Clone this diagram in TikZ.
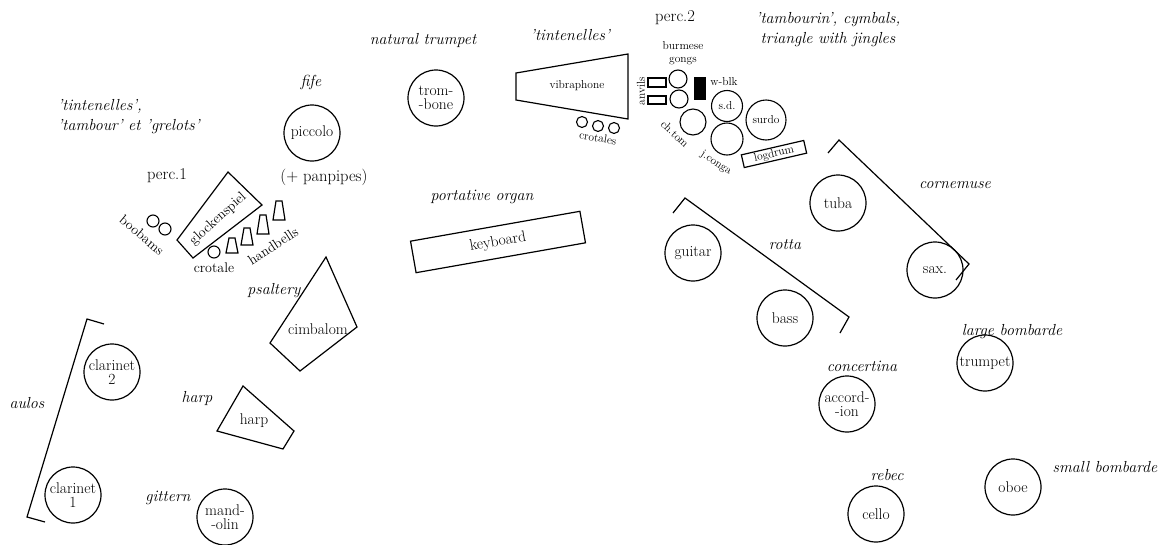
\documentclass[tikz,border=0pt]{standalone}
\begin{document}
\begin{tikzpicture}[x=1pt,y=-1pt,line width=1.2pt,line join=miter,
  inst/.style={circle,draw,line width=1.2pt,minimum size=56pt,inner sep=0pt,align=center,font=\fontsize{15.5}{14}\selectfont},
  sml/.style={circle,draw,line width=1.1pt,inner sep=0pt},
  lab/.style={font=\itshape\fontsize{16}{20}\selectfont,inner sep=0pt},
  txt/.style={font=\fontsize{16.5}{18}\selectfont,inner sep=0pt},
  tny/.style={font=\fontsize{11.5}{12.5}\selectfont,inner sep=0pt,align=center},
  mdl/.style={font=\fontsize{14}{15}\selectfont,inner sep=0pt},
  bx/.style={draw,line width=1.2pt,inner sep=0pt}]
\useasboundingbox (0,0) rectangle (1167,544);

% ---- main instruments (circles)
\node[inst] (trombone) at (436,98) {trom-\\-bone};
\node[inst] (piccolo) at (312,133) {piccolo};
\node[inst] (tuba) at (838,203) {tuba};
\node[inst] (guitar) at (693,253) {guitar};
\node[inst] (bass) at (785,318) {bass};
\node[inst] (sax) at (935,270) {sax.};
\node[inst] (trumpet) at (985,363) {trumpet};
\node[inst] (accordion) at (847,404) {accord-\\-ion};
\node[inst] (cello) at (876,514) {cello};
\node[inst] (oboe) at (1013,487) {oboe};
\node[inst] (clar2) at (112,372) {clarinet\\2};
\node[inst] (clar1) at (73,495) {clarinet\\1};
\node[inst] (mandolin) at (225,517) {mand-\\-olin};

% ---- keyboard
\node[bx,rectangle,rotate=10,minimum width=172pt,minimum height=32pt,font=\fontsize{15.5}{15}\selectfont] (keyboard) at (498,242) {keyboard};

% ---- polygons
\draw (326,257) -- (357,327) -- (300,371) -- (270,343) -- cycle;
\node[txt,font=\fontsize{15.5}{15}\selectfont] (cimbalom) at (318,329) {cimbalom};
\draw (243,386) -- (294,431) -- (283,449) -- (217,431) -- cycle;
\node[txt,font=\fontsize{15.5}{15}\selectfont] (harp) at (254,421) {harp};
\draw (228,172) -- (262,205) -- (193,258) -- (177,240) -- cycle;
\node[mdl,rotate=42] (glock) at (218,219) {glockenspiel};
\draw (516,73) -- (628,54) -- (628,119) -- (516,100) -- cycle;
\node[tny] (vibra) at (577,86) {vibraphone};

% ---- perc.1 small instruments
\node[sml,minimum size=12pt] (boo1) at (153,221) {};
\node[sml,minimum size=12pt] (boo2) at (165,229) {};
\node[mdl,rotate=-40] (boobams) at (142,235) {boobams};
\node[sml,minimum size=12pt] (crot1) at (214,252) {};
\node[mdl] (crotale) at (214,268) {crotale};
\draw (229,238) -- (235,238) -- (238,253) -- (226,253) -- cycle;
\draw (244,228) -- (250,228) -- (253,245) -- (241,245) -- cycle;
\draw (260,215) -- (266,215) -- (269,234) -- (257,234) -- cycle;
\draw (276,201) -- (282,201) -- (285,220) -- (273,220) -- cycle;
\node[mdl,rotate=33] (handbells) at (273,246) {handbells};

% ---- perc.2 small instruments
\node[sml,minimum size=11pt] (crs1) at (582,122) {};
\node[sml,minimum size=11pt] (crs2) at (598,126) {};
\node[sml,minimum size=11pt] (crs3) at (614,128) {};
\node[tny,rotate=-10] (crotales) at (598,138) {crotales};
\draw (648,78) rectangle (666,87);
\draw (648,96) rectangle (666,104);
\node[tny,rotate=90] (anvils) at (641,91) {anvils};
\node[sml,minimum size=18pt] (gong1) at (678,79) {};
\node[sml,minimum size=18pt] (gong2) at (679,99) {};
\node[tny] (gongs) at (683,53) {burmese\\gongs};
\fill (694,77) rectangle (706,100);
\node[tny] (wblk) at (724,82) {w-blk};
\node[sml,minimum size=31pt,font=\fontsize{11.5}{12}\selectfont] (sd) at (727,106) {s.d.};
\node[sml,minimum size=26pt] (chtom) at (693,122) {};
\node[tny,rotate=-43] (chtomlab) at (675,134) {ch.tom};
\node[sml,minimum size=32pt] (conga) at (727,139) {};
\node[tny,rotate=-33] (congalab) at (716,163) {j.conga};
\node[sml,minimum size=40pt,font=\fontsize{11.5}{12}\selectfont] (surdo) at (766,120) {surdo};
\node[bx,rectangle,rotate=13,minimum width=64pt,minimum height=13pt,font=\fontsize{11.5}{12}\selectfont] (logdrum) at (774,154) {logdrum};

% ---- brackets
\draw (828,153) -- (839,140) -- (969,264) -- (956,280);
\draw (673,213) -- (685,198) -- (849,317) -- (840,333);
\draw (104,324) -- (87,319) -- (27,517) -- (45,522);

% ---- plain labels
\node[txt] (perc1) at (167,176) {perc.1};
\node[txt] (perc2) at (675,18) {perc.2};
\node[txt] (panpipes) at (324,177) {(+ panpipes)};

% ---- italic labels
\node[lab] (fife) at (311,82) {fife};
\node[lab] (nattrump) at (423,40) {natural trumpet};
\node[lab] (tint2) at (570,35) {'tintenelles'};
\node[lab,align=left,anchor=west] (tint1) at (57,117) {'tintenelles',\\'tambour' et 'grelots'};
\node[lab,align=center] (tamb) at (828,30) {'tambourin', cymbals,\\triangle with jingles};
\node[lab] (portative) at (482,197) {portative organ};
\node[lab] (psaltery) at (274,291) {psaltery};
\node[lab] (harplab) at (197,398) {harp};
\node[lab] (aulos) at (27,403) {aulos};
\node[lab] (gittern) at (168,498) {gittern};
\node[lab] (cornemuse) at (955,185) {cornemuse};
\node[lab] (rotta) at (785,245) {rotta};
\node[lab] (largebomb) at (1012,332) {large bombarde};
\node[lab] (concertina) at (862,366) {concertina};
\node[lab] (rebec) at (887,475) {rebec};
\node[lab] (smallbomb) at (1105,467) {small bombarde};
\end{tikzpicture}
\end{document}
